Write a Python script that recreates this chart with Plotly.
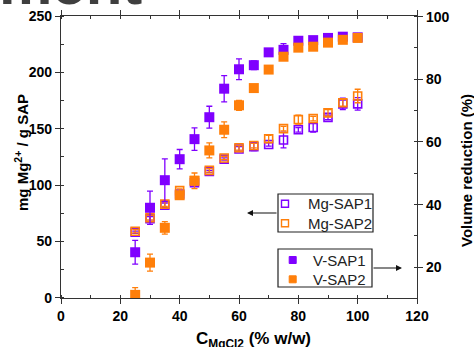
import plotly.graph_objects as go

conc = [25, 30, 35, 40, 45, 50, 55, 60, 65, 70, 75, 80, 85, 90, 95, 100]

mg_sap1 = [58, 70, 82, 92, 102, 112, 123, 132, 134, 136, 140, 149, 151, 160, 172, 172]
mg_sap1_err = [1, 2, 2, 1, 2, 1, 1, 2, 3.5, 1.5, 7, 2, 4, 2, 5, 5.5]
mg_sap2 = [59, 71, 83, 95, 104, 113, 124, 133, 135, 141, 150, 158, 159, 164, 173, 179]
mg_sap2_err = [1.5, 2, 2, 1.5, 3, 1.5, 1.5, 2, 2, 3, 2, 4, 2, 3, 3, 6]

v_sap1 = [24.8, 39.0, 47.8, 54.5, 60.9, 67.9, 77.0, 83.2, 84.5, 88.6, 89.4, 92.3, 92.5, 93.2, 93.6, 93.4]
v_sap1_err = [3.8, 5.3, 6.8, 3.1, 3.6, 3.5, 4.2, 3.3, 1.4, 1.0, 2.0, 0.8, 0.8, 0.6, 0.5, 0.5]
v_sap2 = [11.2, 21.5, 32.6, 43.0, 47.6, 57.3, 63.9, 71.7, 77.2, 83.1, 87.2, 90.1, 90.4, 91.7, 92.6, 93.2]
v_sap2_err = [2.3, 2.7, 2.0, 1.0, 2.5, 2.4, 2.5, 1.6, 0.6, 1.0, 0.6, 0.6, 0.5, 0.5, 0.5, 0.5]

names_mg = ["Mg-SAP1", "Mg-SAP2"]
names_v = ["V-SAP1", "V-SAP2"]

x_ticks = [0, 20, 40, 60, 80, 100, 120]
y_ticks = [0, 50, 100, 150, 200, 250]
y2_ticks = [20, 40, 60, 80, 100]

PURPLE = "#7f00ff"
ORANGE = "#ff7f0a"
FONT = "Liberation Sans, Arial, sans-serif"

fig = go.Figure()

def err(arr, color):
    return dict(type="data", array=arr, visible=True, color=color, thickness=1.3, width=3)

fig.add_trace(go.Scatter(x=conc, y=v_sap1, name=names_v[0], mode="markers", yaxis="y2",
                         marker=dict(symbol="square", size=10, color=PURPLE),
                         error_y=err(v_sap1_err, PURPLE), showlegend=False))
fig.add_trace(go.Scatter(x=conc, y=v_sap2, name=names_v[1], mode="markers", yaxis="y2",
                         marker=dict(symbol="square", size=10, color=ORANGE),
                         error_y=err(v_sap2_err, ORANGE), showlegend=False))
fig.add_trace(go.Scatter(x=conc, y=mg_sap1, name=names_mg[0], mode="markers",
                         marker=dict(symbol="square-open", size=8, color=PURPLE, line=dict(width=1.6)),
                         error_y=err(mg_sap1_err, PURPLE), showlegend=False))
fig.add_trace(go.Scatter(x=conc, y=mg_sap2, name=names_mg[1], mode="markers",
                         marker=dict(symbol="square-open", size=8, color=ORANGE, line=dict(width=1.6)),
                         error_y=err(mg_sap2_err, ORANGE), showlegend=False))

axis_common = dict(showline=True, linecolor="#333", linewidth=1.3, showgrid=False, zeroline=False,
                   ticks="outside", ticklen=5, tickwidth=1.3, tickcolor="#333", automargin=False,
                   tickfont=dict(family=FONT, size=14, color="black", weight="bold"))

fig.update_layout(
    width=474, height=347,
    margin=dict(l=61, r=57, t=16, b=49),
    paper_bgcolor="white", plot_bgcolor="white",
    xaxis=dict(range=[0, 120], tickvals=x_ticks, mirror="ticks",
               minor=dict(dtick=10, ticks="inside", ticklen=3, tickcolor="#333"), **axis_common),
    yaxis=dict(range=[-0.3, 250], tickvals=y_ticks,
               minor=dict(dtick=25, ticks="inside", ticklen=3, tickcolor="#333"), **axis_common),
    yaxis2=dict(range=[10.2, 100.2], tickvals=y2_ticks, overlaying="y", side="right",
                minor=dict(dtick=10, ticks="inside", ticklen=3, tickcolor="#333"), **axis_common),
    showlegend=False,
)

def px_x(p):
    return (p - 61.0) / 356.0

def px_y(p):
    return (298.0 - p) / 282.0

shapes = []
annots = []

# legend boxes
for (x0, y0, x1, y1) in [(278, 194, 373, 232), (278, 249, 372, 287)]:
    shapes.append(dict(type="rect", xref="paper", yref="paper", x0=px_x(x0), x1=px_x(x1),
                       y0=px_y(y1), y1=px_y(y0), line=dict(color="#222", width=1.2),
                       fillcolor="white", layer="above"))

# legend swatches and labels
sw = 3.5
for i, (nm, col) in enumerate(zip(names_mg, [PURPLE, ORANGE])):
    cy = [203.7, 223.3][i]
    shapes.append(dict(type="rect", xref="paper", yref="paper", x0=px_x(285 - sw), x1=px_x(285 + sw),
                       y0=px_y(cy + sw), y1=px_y(cy - sw), line=dict(color=col, width=1.4),
                       fillcolor="white", layer="above"))
    annots.append(dict(xref="paper", yref="paper", x=px_x(306), y=px_y(cy), xanchor="left",
                       yanchor="middle", text=nm, showarrow=False,
                       font=dict(family=FONT, size=15, color="#222")))
for i, (nm, col) in enumerate(zip(names_v, [PURPLE, ORANGE])):
    cy = [260.0, 279.3][i]
    shapes.append(dict(type="rect", xref="paper", yref="paper", x0=px_x(292.7 - sw), x1=px_x(292.7 + sw),
                       y0=px_y(cy + sw), y1=px_y(cy - sw), line=dict(color=col, width=1),
                       fillcolor=col, layer="above"))
    annots.append(dict(xref="paper", yref="paper", x=px_x(368), y=px_y(cy), xanchor="right",
                       yanchor="middle", text=nm, showarrow=False,
                       font=dict(family=FONT, size=15, color="#222")))

# arrows
annots.append(dict(xref="paper", yref="paper", x=px_x(247), y=px_y(213), ax=31, ay=0, text="",
                   showarrow=True, arrowhead=2, arrowsize=1, arrowwidth=1.2, arrowcolor="#111"))
annots.append(dict(xref="paper", yref="paper", x=px_x(402), y=px_y(268), ax=-30, ay=0, text="",
                   showarrow=True, arrowhead=2, arrowsize=1, arrowwidth=1.2, arrowcolor="#111"))

# axis titles
annots.append(dict(xref="paper", yref="paper", x=px_x(21), y=px_y(153), textangle=-90,
                   text="mg Mg<sup>2+</sup> / g SAP", showarrow=False, xanchor="center", yanchor="middle",
                   font=dict(family=FONT, size=15, color="black", weight="bold")))
annots.append(dict(xref="paper", yref="paper", x=px_x(466), y=px_y(171), textangle=-90,
                   text="Volume reduction (%)", showarrow=False, xanchor="center", yanchor="middle",
                   font=dict(family=FONT, size=15, color="black", weight="bold")))
annots.append(dict(xref="paper", yref="paper", x=px_x(194), y=px_y(327), xanchor="left", yanchor="top",
                   text="C<sub>MgCl2</sub> (% w/w)", showarrow=False,
                   font=dict(family=FONT, size=17, color="black", weight="bold")))

# cropped heading from the slide
annots.append(dict(xref="paper", yref="paper", x=px_x(-3), y=px_y(19), xanchor="left", yanchor="bottom",
                   text="ment", showarrow=False,
                   font=dict(family=FONT, size=60, color="#3f3f3f", weight="bold")))

fig.update_layout(shapes=shapes, annotations=annots)
fig.write_html("out.html", config={"displayModeBar": False},
               post_script="document.body.style.margin='0';document.body.style.overflow='hidden';")
